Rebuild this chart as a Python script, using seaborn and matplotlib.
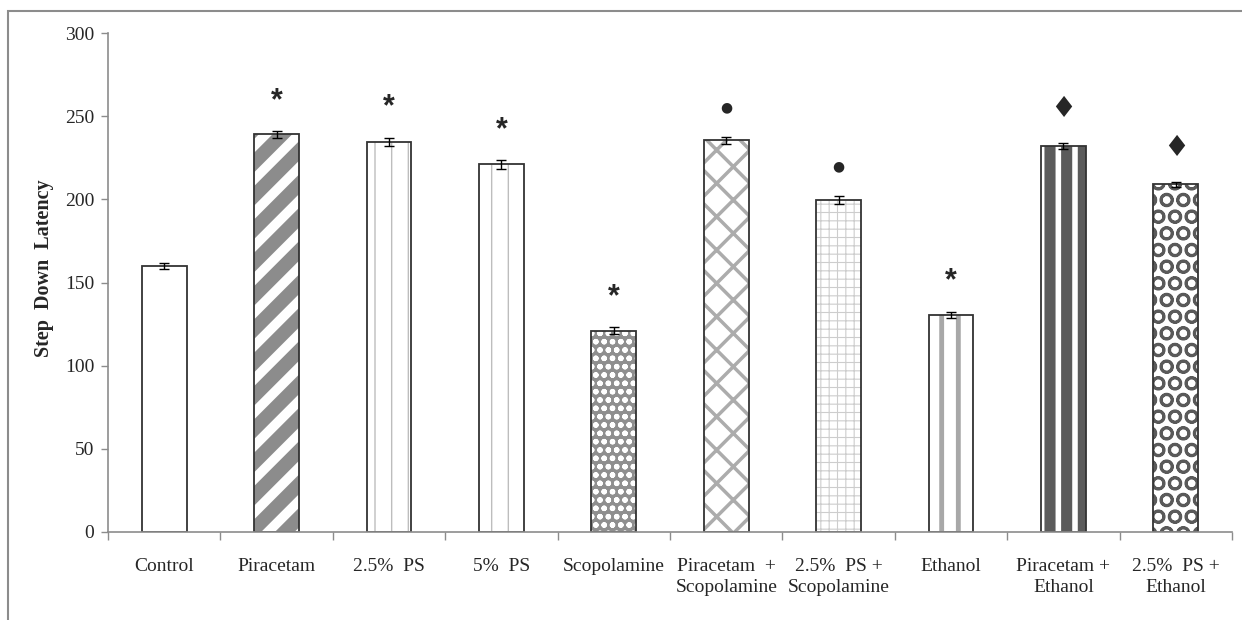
import numpy as np
import pandas as pd
import matplotlib
matplotlib.use('Agg')
import matplotlib.pyplot as plt
from matplotlib.patches import Rectangle
import seaborn as sns

# valores
groups = ['Control', 'Piracetam', '2.5%  PS', '5%  PS', 'Scopolamine',
          'Piracetam  +\nScopolamine', '2.5%  PS +\nScopolamine', 'Ethanol',
          'Piracetam +\nEthanol', '2.5%  PS +\nEthanol']
latency = [160, 239, 234.5, 221, 121, 235.5, 199.5, 130.5, 232, 209]
sem = [2, 2, 2.5, 2.5, 2.2, 2.2, 2.5, 2, 2, 1.6]
marks = ['', '*', '*', '*', '*', '\u25CF', '\u25CF', '*', '\u2666', '\u2666']
yticks = [0, 50, 100, 150, 200, 250, 300]

# (face, hatch, cor do hatch, espessura do hatch)
patterns = [
    ('white', None, 'white', 1),
    ('#8c8c8c', '/', 'white', 7),
    ('white', '|', '#bdbdbd', 1),
    ('white', '|', '#bdbdbd', 1),
    ('#8f8f8f', 'oo', 'white', 1.6),
    ('white', 'x', '#acacac', 2.5),
    ('white', '++', '#cdcdcd', 0.8),
    ('white', '|', '#a8a8a8', 3.5),
    ('#5b5b5b', '|', 'white', 4),
    ('white', 'O', '#5a5a5a', 2),
]

sns.set_style('ticks')
plt.rcParams['font.family'] = ['Liberation Serif', 'DejaVu Sans']

df = pd.DataFrame({'grupo': groups, 'latencia': latency})

fig = plt.figure(figsize=(12.42, 6.2), dpi=100)
ax = fig.add_axes([108 / 1242, 88 / 620, 1124 / 1242, 499 / 620])

sns.barplot(data=df, x='grupo', y='latencia', color='white', width=0.4,
            errorbar=None, ax=ax, saturation=1)

for p, (face, hatch, hcol, hlw) in zip(ax.patches, patterns):
    p.set_facecolor(face)
    p.set_edgecolor(hcol)
    p.set_linewidth(0)
    if hatch:
        p.set_hatch(hatch)
        if hasattr(p, 'set_hatch_linewidth'):
            p.set_hatch_linewidth(hlw)
    # contorno separado para nao herdar a cor do hatch
    ax.add_patch(Rectangle((p.get_x(), p.get_y()), p.get_width(), p.get_height(),
                           facecolor='none', edgecolor='#333333', linewidth=1.3,
                           zorder=p.get_zorder() + 0.1))

ax.errorbar(x=np.arange(len(groups)), y=latency, yerr=sem, fmt='none',
            ecolor='black', elinewidth=1, capsize=3.5, capthick=1, zorder=5)

for i, (v, e, m) in enumerate(zip(latency, sem, marks)):
    if not m:
        continue
    if m == '*':
        ax.annotate(m, xy=(i, v + e), xytext=(0, 11), textcoords='offset points',
                    ha='center', va='bottom', fontsize=22, fontweight='bold',
                    family=['Liberation Sans', 'DejaVu Sans'])
    elif m == '\u2666':
        ax.annotate(m, xy=(i, v + e), xytext=(0, 14), textcoords='offset points',
                    ha='center', va='bottom', fontsize=21, family=['DejaVu Sans'])
    else:
        ax.annotate(m, xy=(i, v + e), xytext=(0, 16), textcoords='offset points',
                    ha='center', va='bottom', fontsize=10, family=['DejaVu Sans'])

ax.set_xlim(-0.5, len(groups) - 0.5)
ax.set_ylim(0, 300)
ax.set_yticks(yticks)
ax.set_xticks(np.arange(-0.5, len(groups)), minor=True)
ax.tick_params(axis='x', which='major', length=0, pad=19, labelsize=14)
ax.tick_params(axis='x', which='minor', length=6, color='#8c8c8c', width=1)
ax.tick_params(axis='y', length=5, color='#8c8c8c', width=1, labelsize=14, pad=5)
for lab in ax.get_xticklabels():
    lab.set_linespacing(1.3)

sns.despine(ax=ax)
for s in ['left', 'bottom']:
    ax.spines[s].set_color('#8c8c8c')
    ax.spines[s].set_linewidth(1.2)

ax.set_xlabel('')
ax.set_ylabel('Step  Down  Latency', fontsize=14.5, fontweight='bold')
ax.yaxis.set_label_coords(-0.048, 0.529)

# moldura da area do grafico (so topo e esquerda aparecem)
fig.add_artist(Rectangle((8 / 1242, -0.1), 1.2, 1.1 - 11 / 620, transform=fig.transFigure,
                         facecolor='none', edgecolor='#8c8c8c', linewidth=1.5))

fig.savefig('out.png', dpi=100)
